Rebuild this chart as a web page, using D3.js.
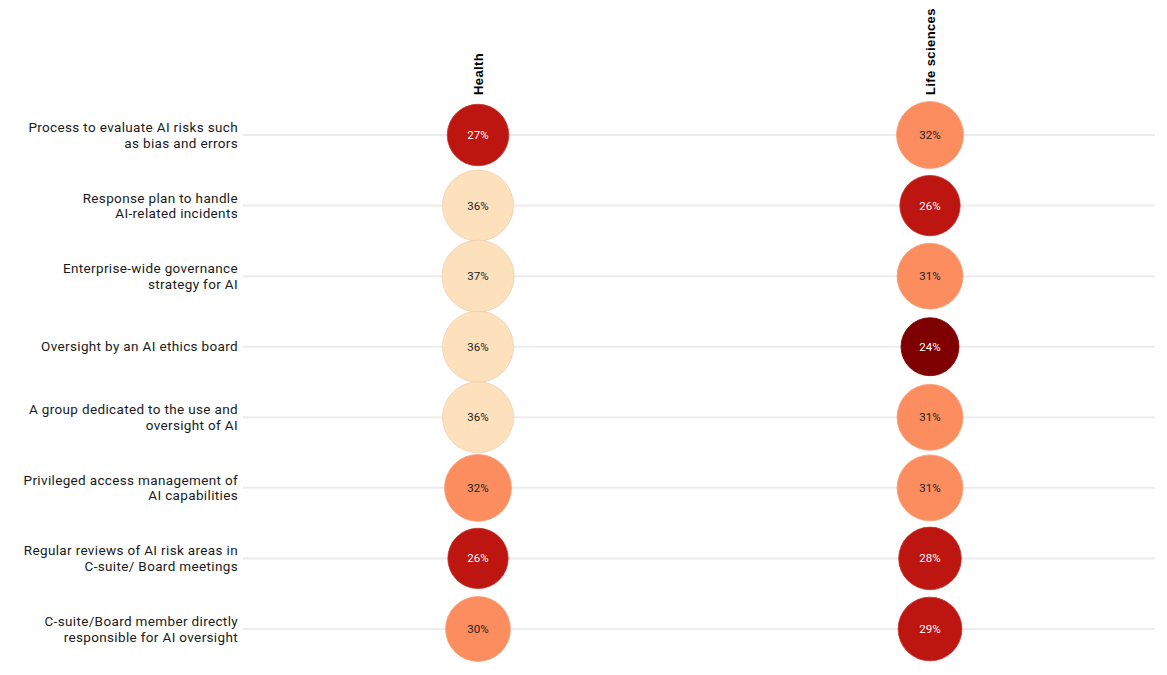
<!DOCTYPE html>
<html>
<head>
<meta charset="utf-8">
<script src="https://cdn.jsdelivr.net/npm/d3@7"></script>
<style>
  body { margin: 0; background: #fff; }
  text { font-family: Roboto, "DejaVu Sans", sans-serif; }
</style>
</head>
<body>
<script>
var categories = [
  "Process to evaluate AI risks such|as bias and errors",
  "Response plan to handle|AI-related incidents",
  "Enterprise-wide governance|strategy for AI",
  "Oversight by an AI ethics board",
  "A group dedicated to the use and|oversight of AI",
  "Privileged access management of|AI capabilities",
  "Regular reviews of AI risk areas in|C-suite/ Board meetings",
  "C-suite/Board member directly|responsible for AI oversight"
];
var columns = ["Health", "Life sciences"];
var health = [27, 36, 37, 36, 36, 32, 26, 30];
var lifeSciences = [32, 26, 31, 24, 31, 31, 28, 29];

var width = 1167, height = 675;

var svg = d3.select("body").append("svg")
  .attr("width", width)
  .attr("height", height);

// scales
var y = d3.scalePoint().domain(categories).range([135, 629]);
var x = d3.scalePoint().domain(columns).range([478, 930]);
var r = d3.scaleSqrt().domain([0, 37]).range([0, 36]);
var color = d3.scaleThreshold()
  .domain([25, 30, 34])
  .range(["#7f0000", "#bd1510", "#fc8d5e", "#fde0bc"]);
var stroke = d3.scaleThreshold()
  .domain([25, 30, 34])
  .range(["#7f0000", "#c4302a", "#f5a07a", "#f2cdb0"]);

// grid lines
svg.append("g")
  .selectAll("line")
  .data(categories)
  .enter()
  .append("line")
  .attr("x1", 243)
  .attr("x2", 1155)
  .attr("y1", function(d) { return y(d); })
  .attr("y2", function(d) { return y(d); })
  .attr("stroke", "#ececec")
  .attr("stroke-width", 2);

// row labels
var labels = svg.append("g")
  .selectAll("text")
  .data(categories)
  .enter()
  .append("text")
  .attr("text-anchor", "end")
  .attr("font-size", "13.5px")
  .attr("letter-spacing", "0.35px")
  .attr("fill", "#1a1a1a")
  .attr("transform", function(d) {
    return "translate(238," + y(d) + ")";
  });

labels.each(function(d) {
  var lines = d.split("|");
  var t = d3.select(this);
  var y0 = lines.length == 1 ? 4.5 : -3;
  lines.forEach(function(l, i) {
    t.append("tspan").attr("x", 0).attr("y", y0 + i * 15.5).text(l);
  });
});

// column headers
svg.append("g")
  .selectAll("text")
  .data(columns)
  .enter()
  .append("text")
  .attr("transform", function(d) {
    return "translate(" + (x(d) + 4.5) + ",95) rotate(-90)";
  })
  .style("font-family", "'Liberation Sans', Arial, sans-serif")
  .attr("font-size", "13px")
  .attr("font-weight", "bold")
  .attr("letter-spacing", "0.4px")
  .attr("fill", "#000")
  .text(function(d) { return d; });

// cells
var cells = [];
categories.forEach(function(c, i) {
  cells.push({ cat: c, col: "Health", value: health[i] });
  cells.push({ cat: c, col: "Life sciences", value: lifeSciences[i] });
});

var cell = svg.append("g")
  .selectAll("g")
  .data(cells)
  .enter()
  .append("g")
  .attr("transform", function(d) {
    return "translate(" + x(d.col) + "," + y(d.cat) + ")";
  });

cell.append("circle")
  .attr("r", function(d) { return r(d.value); })
  .attr("fill", function(d) { return color(d.value); })
  .attr("stroke", function(d) { return stroke(d.value); })
  .attr("stroke-width", 0.8);

cell.append("text")
  .attr("text-anchor", "middle")
  .attr("y", 4)
  .attr("font-size", "11.5px")
  .attr("fill", function(d) { return d.value < 30 ? "#fff" : "#222"; })
  .text(function(d) { return d.value + "%"; });
</script>
</body>
</html>
